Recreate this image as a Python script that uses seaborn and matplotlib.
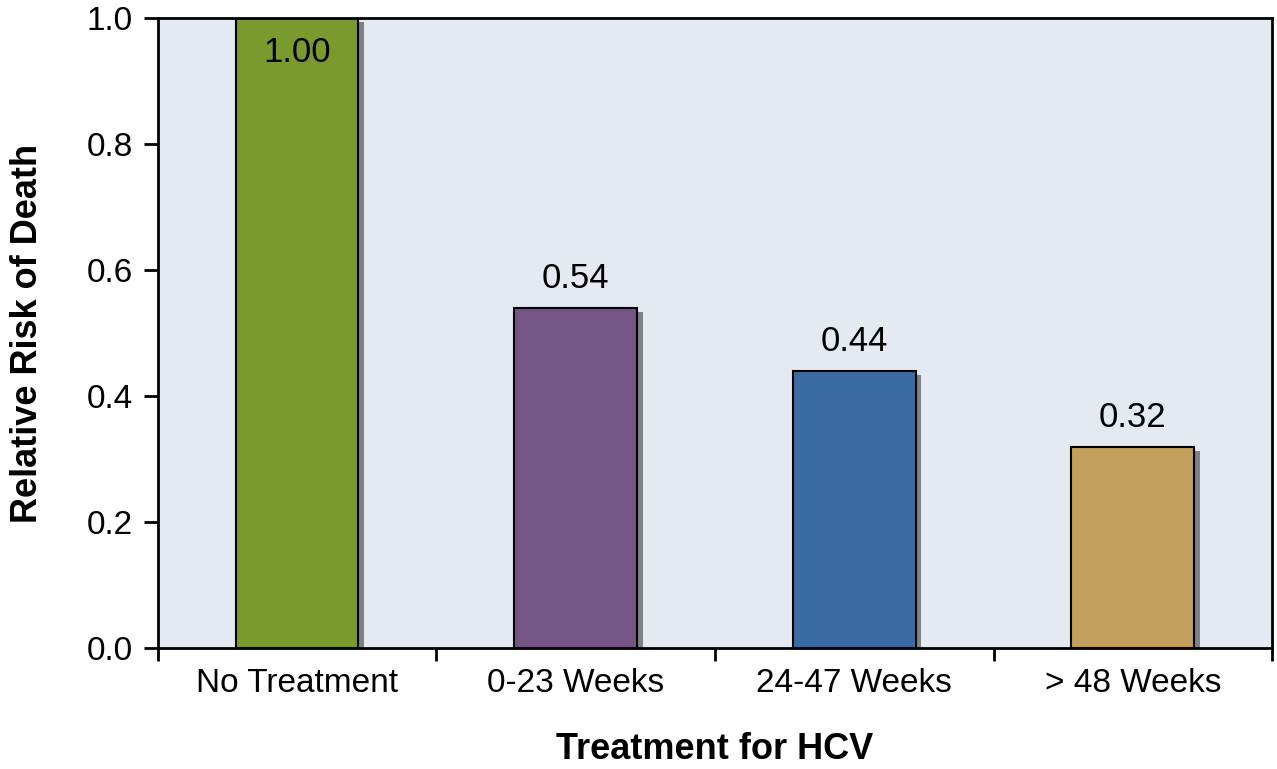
import matplotlib
matplotlib.use("Agg")
import matplotlib.pyplot as plt
import matplotlib.patheffects as pe
import seaborn as sns
import pandas as pd

categories = ["No Treatment", "0-23 Weeks", "24-47 Weeks", "> 48 Weeks"]
values = [1.00, 0.54, 0.44, 0.32]
labels = ["1.00", "0.54", "0.44", "0.32"]
colors = ["#7A9A2E", "#775486", "#3A6CA3", "#C4A05C"]

sns.set_style("ticks")
plt.rcParams['font.family'] = ['Liberation Sans', 'DejaVu Sans']
plt.rcParams['text.color'] = 'black'
plt.rcParams['axes.labelcolor'] = 'black'
plt.rcParams['xtick.color'] = 'black'
plt.rcParams['ytick.color'] = 'black'

df = pd.DataFrame({"cat": categories, "val": values})
fig = plt.figure(figsize=(12.77, 7.69), dpi=100)
ax = fig.add_axes([0.1237, 0.157, 0.8724, 0.8196])
ax.set_facecolor("#E4E9F2")
sns.barplot(data=df, x="cat", y="val", hue="cat", palette=colors, legend=False,
            width=0.44, edgecolor="black", linewidth=1.5, ax=ax, saturation=1)
for p in ax.patches:
    p.set_path_effects([pe.SimplePatchShadow(offset=(4, -3), shadow_rgbFace="black", alpha=0.45), pe.Normal()])

for i, (v, t) in enumerate(zip(values, labels)):
    if v >= 0.95:
        ax.text(i, v - 0.028, t, ha="center", va="top", fontsize=25)
    else:
        ax.text(i, v + 0.02, t, ha="center", va="bottom", fontsize=25)

ax.set_xlim(-0.5, 3.5)
ax.set_ylim(0, 1.0)
ax.set_yticks([0, 0.2, 0.4, 0.6, 0.8, 1.0])
ax.set_yticklabels(["0.0", "0.2", "0.4", "0.6", "0.8", "1.0"])
ax.set_xticks([-0.5, 0.5, 1.5, 2.5, 3.5])
ax.set_xticklabels([])
ax.set_xticks([0, 1, 2, 3], minor=True)
ax.set_xticklabels(categories, minor=True)
ax.tick_params(axis="x", which="minor", length=0, labelsize=24, pad=14)
ax.tick_params(axis="x", which="major", length=9, width=2, direction="out")
ax.tick_params(axis="y", length=10, width=2, direction="out", labelsize=24, pad=8)
for s in ax.spines.values():
    s.set_linewidth(2)
    s.set_color("black")
ax.set_xlabel("Treatment for HCV", fontsize=26, fontweight="bold", labelpad=24)
ax.set_ylabel("Relative Risk of Death", fontsize=26, fontweight="bold", labelpad=30)

fig.savefig("out.png", dpi=100)
